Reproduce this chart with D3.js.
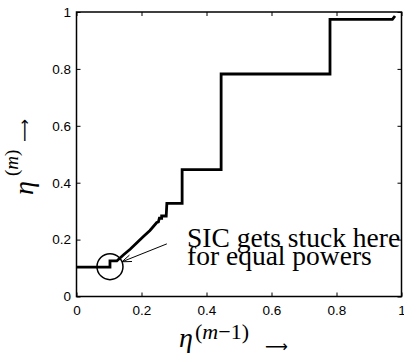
<!DOCTYPE html>
<html>
<head>
<meta charset="utf-8">
<script src="https://cdn.jsdelivr.net/npm/d3@7"></script>
<style>
  body { margin: 0; background: #fff; }
  svg { display: block; }
</style>
</head>
<body>
<div id="chart"></div>
<script>
// eta^(m) against eta^(m-1)
const etaPrev = [0, 0.103, 0.103, 0.124, 0.144, 0.165, 0.185, 0.205, 0.226, 0.247, 0.252, 0.255, 0.262, 0.262, 0.276, 0.278, 0.325, 0.325, 0.445, 0.445, 0.78, 0.78, 0.972, 0.98];
const etaCur  = [0.103, 0.103, 0.125, 0.125, 0.146, 0.166, 0.188, 0.21, 0.232, 0.26, 0.262, 0.275, 0.275, 0.283, 0.283, 0.327, 0.327, 0.446, 0.446, 0.782, 0.782, 0.974, 0.974, 0.986];

const tickValues = [0, 0.2, 0.4, 0.6, 0.8, 1];
const tickLabels = ['0', '0.2', '0.4', '0.6', '0.8', '1'];

const noteLines = ['SIC gets stuck here', 'for equal powers'];
const stuckPoint = [0.103, 0.105];

const W = 404, H = 360;
const plotL = 76.5, plotR = 401.5, plotT = 12, plotB = 296.5;

const svg = d3.select('#chart').append('svg')
  .attr('width', W)
  .attr('height', H);

const x = d3.scaleLinear().domain([0, 1]).range([plotL, plotR]);
const y = d3.scaleLinear().domain([0, 1]).range([plotB, plotT]);

const tickFont = '"Liberation Sans", Arial, sans-serif';
const serif = '"Liberation Serif", "DejaVu Serif", serif';
const arrowFont = '"DejaVu Sans", sans-serif';

function styleAxis(g) {
  g.select('.domain').remove();
  g.selectAll('line').attr('stroke', '#000').attr('stroke-width', 1);
  g.attr('font-family', tickFont).attr('font-size', 13.5);
  g.selectAll('text').attr('fill', '#000');
}

// bottom axis with labels, ticks inward
svg.append('g')
  .attr('transform', 'translate(0,' + plotB + ')')
  .call(d3.axisBottom(x).tickValues(tickValues).tickFormat((d, i) => tickLabels[i])
    .tickSizeInner(-4).tickSizeOuter(0).tickPadding(9))
  .call(styleAxis);

// left axis with labels
svg.append('g')
  .attr('transform', 'translate(' + plotL + ',0)')
  .call(d3.axisLeft(y).tickValues(tickValues).tickFormat((d, i) => tickLabels[i])
    .tickSizeInner(-4).tickSizeOuter(0).tickPadding(5.5))
  .call(styleAxis);

// top and right: ticks only
svg.append('g')
  .attr('transform', 'translate(0,' + plotT + ')')
  .call(d3.axisTop(x).tickValues(tickValues).tickFormat('')
    .tickSizeInner(-4).tickSizeOuter(0))
  .call(styleAxis);

svg.append('g')
  .attr('transform', 'translate(' + plotR + ',0)')
  .call(d3.axisRight(y).tickValues(tickValues).tickFormat('')
    .tickSizeInner(-4).tickSizeOuter(0))
  .call(styleAxis);

// box
svg.append('rect')
  .attr('x', plotL).attr('y', plotT)
  .attr('width', plotR - plotL).attr('height', plotB - plotT)
  .attr('fill', 'none')
  .attr('stroke', '#000')
  .attr('stroke-width', 1.5);

// the curve
const pts = etaPrev.map((v, i) => [v, etaCur[i]]);
const line = d3.line().x(d => x(d[0])).y(d => y(d[1]));

svg.append('path')
  .datum(pts)
  .attr('d', line)
  .attr('fill', 'none')
  .attr('stroke', '#000')
  .attr('stroke-width', 2.8)
  .attr('stroke-linejoin', 'miter');

// circle round the stuck point
svg.append('circle')
  .attr('cx', x(stuckPoint[0]))
  .attr('cy', y(stuckPoint[1]))
  .attr('r', 13)
  .attr('fill', 'none')
  .attr('stroke', '#000')
  .attr('stroke-width', 1.5);

// arrow from the note to the circle
const a0 = [x(0.278), y(0.185)];
const a1 = [x(0.14), y(0.122)];
const ang = Math.atan2(a0[1] - a1[1], a0[0] - a1[0]);
const headLen = 10, headAng = 0.35;
svg.append('line')
  .attr('x1', a0[0]).attr('y1', a0[1])
  .attr('x2', a1[0]).attr('y2', a1[1])
  .attr('stroke', '#000').attr('stroke-width', 1);
svg.append('path')
  .attr('d', 'M' + (a1[0] + headLen * Math.cos(ang + headAng)) + ',' + (a1[1] + headLen * Math.sin(ang + headAng)) +
    'L' + a1[0] + ',' + a1[1] +
    'L' + (a1[0] + headLen * Math.cos(ang - headAng)) + ',' + (a1[1] + headLen * Math.sin(ang - headAng)))
  .attr('fill', 'none')
  .attr('stroke', '#000')
  .attr('stroke-width', 1);

// note text
svg.selectAll('.note')
  .data(noteLines)
  .enter()
  .append('text')
  .attr('class', 'note')
  .attr('x', 187)
  .attr('y', (d, i) => 246.7 + i * 18.5)
  .attr('font-family', serif)
  .attr('font-size', 27.5)
  .attr('fill', '#000')
  .text(d => d);

// x title: eta^(m-1) ->
const xt = svg.append('text')
  .attr('font-family', serif)
  .attr('fill', '#000');
xt.append('tspan').attr('x', 179).attr('y', 347).attr('font-size', 28).attr('font-style', 'italic').text('η');
xt.append('tspan').attr('x', 195).attr('y', 339).attr('font-size', 22).text('(');
xt.append('tspan').attr('font-size', 22).attr('font-style', 'italic').text('m');
xt.append('tspan').attr('font-size', 22).text('−1)');
xt.append('tspan').attr('x', 265).attr('y', 352).attr('font-size', 16).attr('font-family', arrowFont).text('⟶');

// y title: eta^(m) ->, rotated
const yt = svg.append('text')
  .attr('transform', 'rotate(-90)')
  .attr('font-family', serif)
  .attr('fill', '#000');
yt.append('tspan').attr('x', -195).attr('y', 33).attr('font-size', 28).attr('font-style', 'italic').text('η');
yt.append('tspan').attr('x', -176).attr('y', 18).attr('font-size', 19).text('(');
yt.append('tspan').attr('font-size', 19).attr('font-style', 'italic').text('m');
yt.append('tspan').attr('font-size', 19).text(')');
yt.append('tspan').attr('x', -142).attr('y', 30).attr('font-size', 16).attr('font-family', arrowFont).text('⟶');
</script>
</body>
</html>
